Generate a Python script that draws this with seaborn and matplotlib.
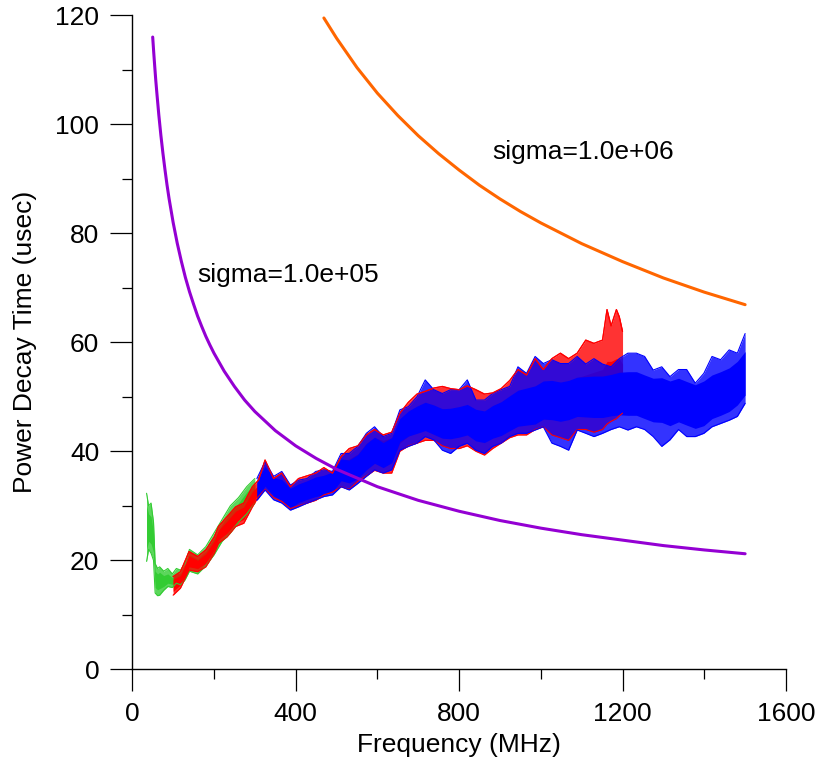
#!/usr/bin/env python3
"""Power decay time vs frequency, with two reference sigma curves."""

import matplotlib

matplotlib.use("Agg")
import matplotlib.pyplot as plt
import seaborn as sns

# --- reference curves ---
sig5_freq = [50, 52.5, 55, 57.5, 60, 65, 70, 75, 80, 85, 90, 100, 110, 120, 130, 140,
             150, 160, 170, 180, 190, 200, 225, 250, 275, 300, 350, 400, 450, 500, 600,
             700, 800, 900, 1000, 1100, 1200, 1300, 1400, 1500]
sig5_tau = [116.0, 113.2, 110.6, 108.1, 105.9, 101.7, 98.0, 94.7, 91.7, 88.9, 86.4,
            82.0, 78.2, 74.9, 71.9, 69.3, 67.0, 64.8, 62.9, 61.1, 59.5, 58.0, 54.7,
            51.9, 49.4, 47.3, 43.8, 41.0, 38.7, 36.7, 33.5, 31.0, 29.0, 27.3, 25.9,
            24.7, 23.7, 22.7, 21.9, 21.2]

sig6_freq = [469, 500, 550, 600, 650, 700, 750, 800, 850, 900, 950, 1000, 1100, 1200,
             1300, 1400, 1500]
sig6_tau = [119.5, 115.8, 110.4, 105.7, 101.6, 97.9, 94.6, 91.6, 88.8, 86.3, 84.0, 81.9,
            78.1, 74.8, 71.8, 69.2, 66.9]

# --- green measurement band ---
green_freq = [35, 40, 46, 52, 56, 62, 67, 77, 87, 98, 108, 118, 129, 140, 160, 180,
              200, 220, 240, 260, 280, 300]
green_hi = [32.3, 30.0, 30.5, 27.0, 19.4, 18.5, 18.8, 18.0, 18.5, 17.5, 18.5, 18.2,
            19.4, 22.0, 21.0, 22.5, 25.0, 27.5, 30.0, 31.5, 33.5, 35.0]
green_lo = [19.8, 22.0, 21.3, 20.0, 14.0, 13.5, 13.6, 14.5, 15.2, 15.0, 15.8, 15.5,
            16.4, 18.0, 17.5, 19.0, 21.0, 23.5, 25.0, 27.0, 28.5, 30.5]
green_core_hi = [30.0, 28.5, 28.0, 25.0, 18.0, 17.5, 17.8, 17.2, 17.5, 16.8, 17.6, 17.5,
                 18.5, 21.0, 20.2, 21.6, 24.0, 26.5, 29.0, 30.5, 32.5, 34.0]
green_core_lo = [22.0, 23.5, 23.0, 21.5, 15.0, 14.6, 14.8, 15.2, 15.8, 15.6, 16.3, 16.1,
                 17.0, 19.0, 18.4, 19.8, 22.0, 24.5, 26.0, 28.0, 29.5, 31.5]

# --- red measurement band ---
red_freq = [100, 118, 139, 160, 180, 201, 211, 232, 253, 273, 294, 309, 325, 346, 366,
            387, 407, 428, 449, 469, 490, 511, 531, 552, 573, 593, 614, 635, 655, 676,
            697, 717, 738, 759, 779, 800, 820, 841, 862, 882, 903, 924, 944, 965, 986,
            1006, 1027, 1048, 1068, 1089, 1110, 1130, 1151, 1162, 1172, 1185, 1192, 1200]
red_hi = [17.0, 17.9, 21.6, 20.7, 21.9, 24.3, 26.2, 28.0, 29.8, 30.5, 33.5, 34.7, 38.4,
          35.0, 36.0, 33.5, 35.0, 35.5, 36.0, 37.0, 36.0, 39.0, 40.5, 41.0, 43.0, 44.0,
          43.0, 43.5, 47.0, 49.0, 50.5, 51.0, 51.6, 51.9, 51.5, 51.3, 52.0, 51.3, 50.5,
          50.7, 51.5, 53.0, 55.0, 54.0, 57.0, 55.0, 57.0, 58.0, 57.0, 58.0, 60.4, 59.8,
          60.4, 66.0, 63.0, 66.0, 64.7, 62.0]
red_lo = [13.6, 14.9, 18.2, 17.9, 18.8, 21.3, 23.1, 24.3, 26.2, 26.8, 29.8, 31.7, 33.0,
          31.5, 30.8, 29.5, 30.0, 30.5, 31.0, 32.0, 32.5, 33.5, 33.0, 34.5, 35.5, 36.5,
          36.0, 36.0, 40.0, 41.0, 41.5, 42.0, 42.0, 41.0, 40.5, 40.5, 41.0, 40.0, 39.3,
          40.5, 41.5, 42.5, 43.0, 43.0, 44.0, 44.5, 43.0, 42.5, 42.0, 44.0, 44.0, 43.5,
          44.0, 45.0, 45.5, 46.0, 46.5, 47.0]
red_core_hi = [16.5, 17.2, 20.8, 20.0, 21.2, 23.6, 25.5, 27.2, 29.0, 29.8, 32.6, 33.8,
               36.8, 34.6, 34.8, 33.0, 34.0, 34.5, 35.0, 35.6, 35.8, 38.0, 38.6, 39.5,
               41.5, 42.5, 42.0, 42.5, 45.8, 47.0, 48.0, 48.5, 48.2, 47.8, 47.8, 48.0,
               48.3, 47.5, 47.2, 47.8, 48.5, 49.5, 50.5, 50.8, 51.5, 52.0, 52.5, 52.5,
               52.8, 53.5, 54.0, 54.5, 55.0, 56.5, 56.5, 57.0, 57.0, 56.0]
red_core_lo = [14.3, 15.5, 18.8, 18.5, 19.5, 22.0, 23.8, 25.0, 26.8, 27.5, 30.4, 32.2,
               34.0, 32.4, 31.5, 30.0, 30.8, 31.2, 31.8, 32.5, 33.0, 35.0, 34.6, 35.6,
               36.8, 38.0, 37.2, 38.0, 41.5, 42.8, 43.5, 44.0, 43.5, 42.8, 42.5, 42.8,
               43.3, 42.4, 42.0, 43.0, 43.8, 44.8, 45.6, 46.0, 46.5, 47.0, 46.5, 46.2,
               46.5, 47.5, 48.0, 48.0, 48.5, 49.5, 50.0, 50.5, 51.0, 51.0]

# --- blue measurement band ---
blue_freq = [305, 325, 346, 366, 387, 407, 428, 449, 469, 490, 511, 531, 552, 573, 593,
             614, 635, 655, 676, 697, 717, 738, 759, 779, 800, 820, 841, 862, 882, 903,
             924, 944, 965, 986, 1006, 1027, 1048, 1068, 1089, 1110, 1130, 1151, 1172,
             1192, 1213, 1234, 1254, 1275, 1296, 1316, 1337, 1357, 1378, 1399, 1419,
             1440, 1461, 1481, 1500]
blue_hi = [35.0, 38.1, 35.4, 36.3, 33.8, 34.7, 35.0, 36.3, 36.6, 36.3, 39.6, 39.6, 40.9,
           43.3, 44.5, 42.7, 43.3, 47.6, 48.2, 50.0, 53.1, 51.3, 50.6, 51.3, 51.3, 53.1,
           49.4, 49.4, 50.6, 51.3, 51.9, 55.5, 54.3, 57.4, 56.1, 56.8, 56.1, 56.1, 57.4,
           56.0, 57.0, 56.0, 55.5, 57.0, 58.0, 58.0, 57.4, 54.9, 55.5, 53.7, 55.0, 55.0,
           52.5, 54.3, 57.4, 56.8, 58.6, 58.0, 61.6]
blue_lo = [31.0, 32.9, 31.1, 30.5, 29.2, 29.8, 30.5, 31.1, 31.7, 32.0, 33.5, 32.9, 34.1,
           35.4, 36.6, 36.0, 36.6, 40.2, 40.9, 41.5, 42.7, 42.1, 40.2, 39.6, 40.9, 41.5,
           40.2, 39.6, 40.9, 41.5, 42.7, 43.3, 43.3, 43.9, 44.5, 41.5, 40.9, 40.2, 43.9,
           43.3, 42.7, 43.3, 44.0, 44.5, 43.9, 44.5, 44.0, 42.7, 40.9, 42.1, 44.0, 42.7,
           42.7, 43.3, 44.5, 45.1, 45.7, 46.4, 48.8]
blue_core_hi = [34.6, 37.2, 35.2, 34.8, 33.2, 34.0, 34.6, 35.3, 35.6, 36.2, 38.6, 38.4,
                39.4, 41.4, 42.6, 41.6, 42.5, 46.0, 47.4, 48.3, 49.0, 48.5, 47.8, 47.9,
                48.2, 48.6, 47.7, 47.4, 48.4, 49.1, 50.2, 51.2, 51.6, 52.0, 52.9, 53.0,
                52.7, 53.0, 53.6, 53.7, 53.8, 53.8, 54.1, 54.5, 54.6, 54.6, 54.0, 53.4,
                53.5, 52.9, 53.4, 52.8, 52.2, 52.9, 54.0, 54.6, 55.3, 56.5, 58.3]
blue_core_lo = [31.4, 33.6, 31.8, 31.0, 29.6, 30.6, 31.2, 31.7, 32.0, 32.6, 34.6, 34.2,
                35.0, 36.6, 37.8, 37.0, 37.9, 41.8, 42.8, 43.3, 43.8, 43.1, 42.4, 42.3,
                42.6, 43.0, 41.9, 41.6, 42.4, 42.9, 43.8, 44.6, 44.8, 45.0, 45.9, 45.8,
                45.5, 45.8, 46.4, 46.3, 46.2, 46.2, 46.5, 46.7, 46.6, 46.6, 46.0, 45.4,
                45.3, 44.7, 45.4, 44.8, 44.2, 44.7, 46.0, 46.6, 47.3, 48.5, 50.3]

# --- labels ---
x_label = "Frequency (MHz)"
y_label = "Power Decay Time (usec)"
sig5_label = "sigma=1.0e+05"
sig6_label = "sigma=1.0e+06"

GREEN = "#33CC33"
RED = "#FF0000"
BLUE = "#0000FF"
PURPLE = "#9400D3"
ORANGE = "#FF6600"


def draw_envelope(ax, freq, lo, hi, color, alpha):
    """Outer envelope of the trace bundle"""
    ax.fill_between(freq, lo, hi, color=color, alpha=alpha, lw=0)
    sns.lineplot(x=freq, y=hi, ax=ax, color=color, lw=0.8)
    sns.lineplot(x=freq, y=lo, ax=ax, color=color, lw=0.8)


def main():
    sns.set_theme(style="ticks")
    plt.rcParams["font.family"] = ["Liberation Sans", "DejaVu Sans"]
    plt.rcParams["text.color"] = "black"
    plt.rcParams["axes.labelcolor"] = "black"
    plt.rcParams["xtick.color"] = "black"
    plt.rcParams["ytick.color"] = "black"

    fig = plt.figure(figsize=(8.2, 7.63), dpi=100)
    ax = fig.add_axes([0.1613, 0.1228, 0.7972, 0.8572])

    # green, then red, then blue bundles
    draw_envelope(ax, green_freq, green_lo, green_hi, GREEN, 0.8)
    ax.fill_between(green_freq, green_core_lo, green_core_hi, color=GREEN, lw=0)
    draw_envelope(ax, red_freq, red_lo, red_hi, RED, 0.8)
    ax.fill_between(red_freq, red_core_lo, red_core_hi, color=RED, lw=0)
    draw_envelope(ax, blue_freq, blue_lo, blue_hi, BLUE, 0.8)
    ax.fill_between(blue_freq, blue_core_lo, blue_core_hi, color=BLUE, lw=0)
    # a few red traces poke out above the blue bundle
    sns.lineplot(x=red_freq, y=red_hi, ax=ax, color=RED, lw=0.9, alpha=0.9)

    sns.lineplot(x=sig5_freq, y=sig5_tau, ax=ax, color=PURPLE, lw=2.2)
    sns.lineplot(x=sig6_freq, y=sig6_tau, ax=ax, color=ORANGE, lw=2.2)

    ax.text(158, 72.3, sig5_label, fontsize=19, va="center", ha="left")
    ax.text(880, 94.9, sig6_label, fontsize=19, va="center", ha="left")

    ax.set_xlim(0, 1600)
    ax.set_ylim(0, 120)
    ax.set_xticks([0, 400, 800, 1200, 1600])
    ax.set_xticks([200, 600, 1000, 1400], minor=True)
    ax.set_yticks([0, 20, 40, 60, 80, 100, 120])
    ax.set_yticks([10, 30, 50, 70, 90, 110], minor=True)
    ax.tick_params(which="major", length=15.8, width=0.9, color="black",
                   labelsize=19, pad=8)
    ax.tick_params(which="minor", length=7.5, width=0.9, color="black")

    ax.set_xlabel(x_label, fontsize=19, labelpad=5)
    ax.set_ylabel(y_label, fontsize=19, labelpad=13)

    for side in ["top", "right"]:
        ax.spines[side].set_visible(False)
    for side in ["left", "bottom"]:
        ax.spines[side].set_color("black")
        ax.spines[side].set_linewidth(1.0)

    fig.savefig("out.png", dpi=100)
    plt.close(fig)


if __name__ == "__main__":
    main()
